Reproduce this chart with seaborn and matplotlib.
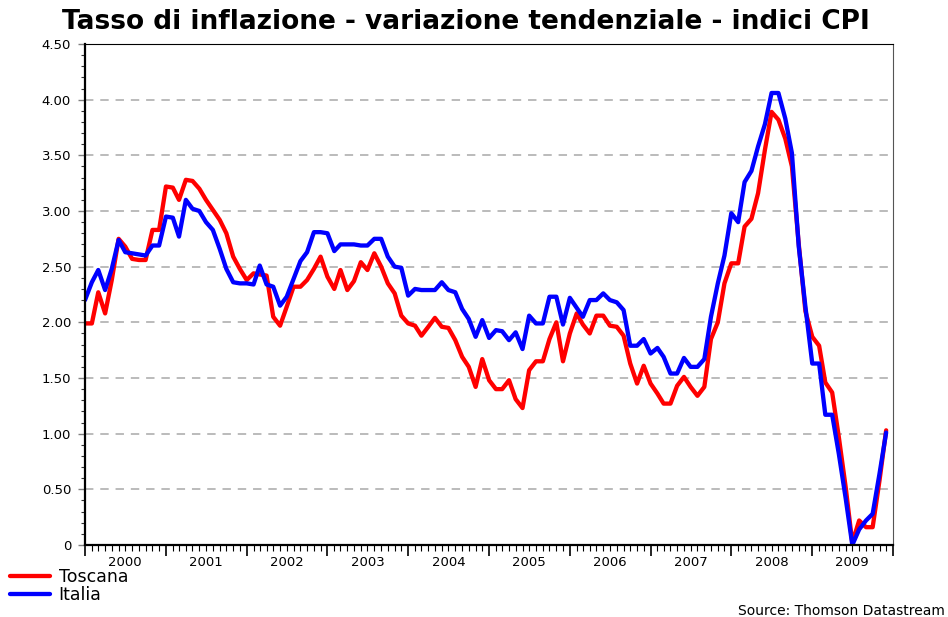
import matplotlib
matplotlib.use("Agg")
import matplotlib.pyplot as plt
import matplotlib.dates as mdates
import matplotlib.transforms as mtransforms
from matplotlib.ticker import MultipleLocator, FuncFormatter
import pandas as pd
import seaborn as sns

# monthly yoy CPI inflation, Jan 2000 - Dec 2009
months = pd.date_range("2000-01-01", periods=120, freq="MS")

toscana = [
    1.99, 1.99, 2.27, 2.08, 2.38, 2.75, 2.68, 2.57, 2.56, 2.56, 2.83, 2.83,
    3.22, 3.21, 3.10, 3.28, 3.27, 3.20, 3.10, 3.01, 2.92, 2.80, 2.59, 2.48,
    2.38, 2.44, 2.43, 2.42, 2.05, 1.97, 2.14, 2.32, 2.32, 2.38, 2.48, 2.59,
    2.41, 2.30, 2.47, 2.29, 2.37, 2.54, 2.47, 2.62, 2.50, 2.35, 2.26, 2.06,
    1.99, 1.97, 1.88, 1.96, 2.04, 1.96, 1.95, 1.84, 1.69, 1.60, 1.42, 1.67,
    1.48, 1.40, 1.40, 1.48, 1.31, 1.23, 1.57, 1.65, 1.65, 1.85, 2.00, 1.65,
    1.90, 2.08, 1.98, 1.90, 2.06, 2.06, 1.97, 1.96, 1.88, 1.63, 1.45, 1.61,
    1.45, 1.36, 1.27, 1.27, 1.43, 1.51, 1.42, 1.34, 1.42, 1.85, 2.00, 2.35,
    2.53, 2.53, 2.86, 2.93, 3.16, 3.55, 3.89, 3.82, 3.65, 3.40, 2.70, 2.10,
    1.87, 1.79, 1.46, 1.37, 0.97, 0.52, 0.02, 0.22, 0.16, 0.16, 0.58, 1.03,
]

italia = [
    2.20, 2.36, 2.47, 2.29, 2.48, 2.74, 2.63, 2.62, 2.61, 2.60, 2.69, 2.69,
    2.95, 2.94, 2.77, 3.10, 3.02, 3.00, 2.90, 2.83, 2.66, 2.48, 2.36, 2.35,
    2.35, 2.34, 2.51, 2.34, 2.32, 2.15, 2.23, 2.39, 2.55, 2.63, 2.81, 2.81,
    2.80, 2.64, 2.70, 2.70, 2.70, 2.69, 2.69, 2.75, 2.75, 2.59, 2.50, 2.49,
    2.24, 2.30, 2.29, 2.29, 2.29, 2.36, 2.29, 2.27, 2.12, 2.03, 1.87, 2.02,
    1.86, 1.93, 1.92, 1.84, 1.91, 1.76, 2.06, 1.99, 1.99, 2.23, 2.23, 1.98,
    2.22, 2.13, 2.05, 2.20, 2.20, 2.26, 2.20, 2.18, 2.11, 1.79, 1.79, 1.85,
    1.72, 1.77, 1.69, 1.54, 1.54, 1.68, 1.60, 1.60, 1.67, 2.05, 2.35, 2.60,
    2.98, 2.90, 3.26, 3.36, 3.58, 3.78, 4.06, 4.06, 3.83, 3.52, 2.68, 2.14,
    1.63, 1.63, 1.17, 1.17, 0.82, 0.42, 0.00, 0.14, 0.22, 0.28, 0.64, 1.01,
]

years = [str(y) for y in range(2000, 2010)]
series_names = ["Toscana", "Italia"]
colors = {"Toscana": "#ff0000", "Italia": "#0000ff"}

df = pd.concat([
    pd.DataFrame({"date": months, "value": toscana, "serie": "Toscana"}),
    pd.DataFrame({"date": months, "value": italia, "serie": "Italia"}),
], ignore_index=True)

sns.set_style("white")
plt.rcParams["font.family"] = ["DejaVu Sans"]
plt.rcParams["text.color"] = "black"
plt.rcParams["xtick.color"] = "black"
plt.rcParams["ytick.color"] = "black"
plt.rcParams["xtick.labelcolor"] = "black"
plt.rcParams["ytick.labelcolor"] = "black"

fig = plt.figure(figsize=(9.48, 6.17), dpi=100)
ax = fig.add_axes([85 / 948, 1 - 545 / 617, 808 / 948, 501 / 617])

sns.lineplot(data=df, x="date", y="value", hue="serie", hue_order=series_names,
             palette=colors, linewidth=3.1, ax=ax)

ax.set_xlim(pd.Timestamp("2000-01-01"), pd.Timestamp("2010-01-01"))
ax.set_ylim(0, 4.5)
ax.set_xlabel("")
ax.set_ylabel("")

# y axis
ax.yaxis.set_major_locator(MultipleLocator(0.5))
ax.yaxis.set_minor_locator(MultipleLocator(0.1))
ax.yaxis.set_major_formatter(FuncFormatter(lambda v, p: "0" if v == 0 else f"{v:.2f}"))
ax.tick_params(axis="y", which="major", direction="out", length=5, width=1,
               color="#808080", labelsize=9.5, labelcolor="black", pad=5, left=True)
ax.tick_params(axis="y", which="minor", direction="out", length=3, width=0.8,
               color="#333333", left=True)
ax.yaxis.grid(True, which="major", linestyle=(0, (5.5, 4.5)), color="#a8a8a8",
              linewidth=1.1)
ax.set_axisbelow(True)

# x axis: year boundaries + monthly ticks, year labels centred in each year
ax.xaxis.set_major_locator(mdates.YearLocator())
ax.xaxis.set_minor_locator(mdates.MonthLocator())
ax.xaxis.set_major_formatter(FuncFormatter(lambda v, p: ""))
ax.tick_params(axis="x", which="major", direction="out", length=8, width=1.2,
               color="black", bottom=True)
ax.tick_params(axis="x", which="minor", direction="out", length=4, width=0.8,
               color="black", bottom=True)
trans = mtransforms.blended_transform_factory(ax.transData, ax.transAxes)
for y in years:
    mid = mdates.date2num(pd.Timestamp(f"{y}-07-01"))
    ax.text(mid, -0.034, y, transform=trans, ha="center", va="center",
            fontsize=9.5, color="black")

for s in ["left", "bottom"]:
    ax.spines[s].set_linewidth(1.6)
    ax.spines[s].set_color("black")
ax.spines["top"].set_linewidth(0.8)
ax.spines["top"].set_color("black")
ax.spines["right"].set_linewidth(0.8)
ax.spines["right"].set_color("#555555")

handles, labels = ax.get_legend_handles_labels()
ax.get_legend().remove()
fig.legend(handles, labels, loc="upper left", bbox_to_anchor=(10 / 948, 1 - 568 / 617),
           frameon=False, fontsize=12.5, handlelength=2.3, handletextpad=0.5,
           labelspacing=0.0, borderpad=0, borderaxespad=0, labelcolor="black")

fig.text(466 / 948, 1 - 22 / 617, "Tasso di inflazione - variazione tendenziale - indici CPI",
         ha="center", va="center", fontsize=19, fontweight="bold", color="black")
fig.text(945 / 948, 1 - 611 / 617, "Source: Thomson Datastream", ha="right",
         va="center", fontsize=10, color="black")

fig.savefig("out.png", dpi=100)
